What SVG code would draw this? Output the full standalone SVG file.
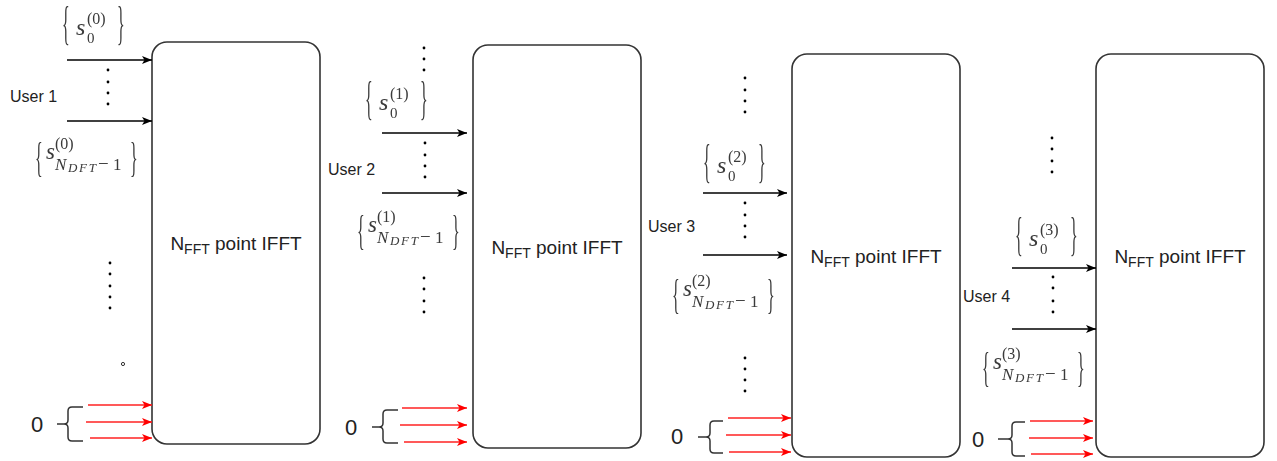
<svg xmlns="http://www.w3.org/2000/svg" width="1277" height="461" viewBox="0 0 1277 461">
  <defs>
    <marker id="ah" viewBox="0 0 10 8" refX="10" refY="4" markerWidth="10" markerHeight="8" markerUnits="userSpaceOnUse" orient="auto">
      <path d="M0,0 L10,4 L0,8 L2.5,4 z" fill="#000"/>
    </marker>
    <marker id="ahr" viewBox="0 0 10 8" refX="10" refY="4" markerWidth="10" markerHeight="8" markerUnits="userSpaceOnUse" orient="auto">
      <path d="M0,0 L10,4 L0,8 L2.5,4 z" fill="#f00"/>
    </marker>
    <!-- pass-through filter: renders math labels off-screen with greyscale smoothing -->
    <filter id="flat" x="-10%" y="-10%" width="120%" height="120%">
      <feOffset dx="0" dy="0"/>
    </filter>
    <style>
      .box { fill: #fff; stroke: #333; stroke-width: 1.6; }
      .wire { stroke: #000; stroke-width: 1.5; fill: none; marker-end: url(#ah); }
      .zero { stroke: #f22; stroke-width: 1.6; fill: none; marker-end: url(#ahr); }
      .dot { fill: #000; }
      .brk { fill: none; stroke: #333; stroke-width: 1.5; }
      .lbl { font-family: "Liberation Sans", Arial, sans-serif; font-size: 16px; fill: #222; }
      .num { font-family: "Liberation Sans", Arial, sans-serif; font-size: 22px; fill: #222; text-anchor: middle; }
      .ttl { font-family: "Liberation Sans", Arial, sans-serif; font-size: 19px; fill: #222; text-anchor: middle; }
      .math { filter: url(#flat); }
      .m { font-family: "Liberation Serif", "Times New Roman", serif; fill: #3a3a3a; }
      .mi { font-style: italic; }
      .br { font-family: "Liberation Serif", "Times New Roman", serif; font-size: 16px; fill: #3a3a3a; }
    </style>
  </defs>

  <!-- IFFT blocks -->
  <g id="ifft1">
    <rect class="box" x="152" y="42" width="168" height="402" rx="15"/>
    <text class="ttl" x="236" y="250">N<tspan font-size="14" dy="4">FFT</tspan><tspan dy="-4"> point IFFT</tspan></text>
  </g>
  <g id="ifft2">
    <rect class="box" x="473" y="45" width="168" height="403" rx="15"/>
    <text class="ttl" x="557" y="254">N<tspan font-size="14" dy="4">FFT</tspan><tspan dy="-4"> point IFFT</tspan></text>
  </g>
  <g id="ifft3">
    <rect class="box" x="792" y="54" width="168" height="403" rx="15"/>
    <text class="ttl" x="876" y="263">N<tspan font-size="14" dy="4">FFT</tspan><tspan dy="-4"> point IFFT</tspan></text>
  </g>
  <g id="ifft4">
    <rect class="box" x="1096" y="54" width="168" height="403" rx="15"/>
    <text class="ttl" x="1180" y="263">N<tspan font-size="14" dy="4">FFT</tspan><tspan dy="-4"> point IFFT</tspan></text>
  </g>

  <!-- user labels -->
  <g id="user1"><text class="lbl" x="10" y="102">User 1</text></g>
  <g id="user2"><text class="lbl" x="328" y="175">User 2</text></g>
  <g id="user3"><text class="lbl" x="648" y="232">User 3</text></g>
  <g id="user4"><text class="lbl" x="963" y="302">User 4</text></g>

  <!-- first-symbol labels {s_0^(k)} -->
  <g id="s0-first" class="math" transform="translate(62,27)">
    <text class="br" transform="scale(1,2.85)" y="4.1">{</text>
    <text class="m mi" x="14" y="8" font-size="24">s</text>
    <text class="m" x="25" y="-3" font-size="16">(0)</text>
    <text class="m" x="25" y="16" font-size="15">0</text>
    <text class="br" transform="translate(55,0) scale(1,2.85)" y="4.1">}</text>
  </g>
  <g id="s1-first" class="math" transform="translate(365,102)">
    <text class="br" transform="scale(1,2.85)" y="4.1">{</text>
    <text class="m mi" x="14" y="8" font-size="24">s</text>
    <text class="m" x="25" y="-3" font-size="16">(1)</text>
    <text class="m" x="25" y="16" font-size="15">0</text>
    <text class="br" transform="translate(55,0) scale(1,2.85)" y="4.1">}</text>
  </g>
  <g id="s2-first" class="math" transform="translate(703,165)">
    <text class="br" transform="scale(1,2.85)" y="4.1">{</text>
    <text class="m mi" x="14" y="8" font-size="24">s</text>
    <text class="m" x="25" y="-3" font-size="16">(2)</text>
    <text class="m" x="25" y="16" font-size="15">0</text>
    <text class="br" transform="translate(55,0) scale(1,2.85)" y="4.1">}</text>
  </g>
  <g id="s3-first" class="math" transform="translate(1015,238)">
    <text class="br" transform="scale(1,2.85)" y="4.1">{</text>
    <text class="m mi" x="14" y="8" font-size="24">s</text>
    <text class="m" x="25" y="-3" font-size="16">(3)</text>
    <text class="m" x="25" y="16" font-size="15">0</text>
    <text class="br" transform="translate(55,0) scale(1,2.85)" y="4.1">}</text>
  </g>

  <!-- last-symbol labels {s_(N_DFT-1)^(k)} -->
  <g id="s0-last" class="math" transform="translate(35,160)">
    <text class="br" transform="scale(1,2.7)" y="4.1">{</text>
    <text class="m mi" x="11" y="-1" font-size="23">s</text>
    <text class="m" x="20" y="-11" font-size="16">(0)</text>
    <text class="m mi" x="20" y="10" font-size="17">N</text>
    <text class="m mi" x="33" y="12" font-size="13" textLength="28" lengthAdjust="spacing">DFT</text>
    <text class="m" x="63" y="10" font-size="19">−</text>
    <text class="m" x="78" y="10" font-size="17">1</text>
    <text class="br" transform="translate(95,0) scale(1,2.7)" y="4.1">}</text>
  </g>
  <g id="s1-last" class="math" transform="translate(357,233)">
    <text class="br" transform="scale(1,2.7)" y="4.1">{</text>
    <text class="m mi" x="11" y="-1" font-size="23">s</text>
    <text class="m" x="20" y="-11" font-size="16">(1)</text>
    <text class="m mi" x="20" y="10" font-size="17">N</text>
    <text class="m mi" x="33" y="12" font-size="13" textLength="28" lengthAdjust="spacing">DFT</text>
    <text class="m" x="63" y="10" font-size="19">−</text>
    <text class="m" x="78" y="10" font-size="17">1</text>
    <text class="br" transform="translate(95,0) scale(1,2.7)" y="4.1">}</text>
  </g>
  <g id="s2-last" class="math" transform="translate(672,297)">
    <text class="br" transform="scale(1,2.7)" y="4.1">{</text>
    <text class="m mi" x="11" y="-1" font-size="23">s</text>
    <text class="m" x="20" y="-11" font-size="16">(2)</text>
    <text class="m mi" x="20" y="10" font-size="17">N</text>
    <text class="m mi" x="33" y="12" font-size="13" textLength="28" lengthAdjust="spacing">DFT</text>
    <text class="m" x="63" y="10" font-size="19">−</text>
    <text class="m" x="78" y="10" font-size="17">1</text>
    <text class="br" transform="translate(95,0) scale(1,2.7)" y="4.1">}</text>
  </g>
  <g id="s3-last" class="math" transform="translate(982,370)">
    <text class="br" transform="scale(1,2.7)" y="4.1">{</text>
    <text class="m mi" x="11" y="-1" font-size="23">s</text>
    <text class="m" x="20" y="-11" font-size="16">(3)</text>
    <text class="m mi" x="20" y="10" font-size="17">N</text>
    <text class="m mi" x="33" y="12" font-size="13" textLength="28" lengthAdjust="spacing">DFT</text>
    <text class="m" x="63" y="10" font-size="19">−</text>
    <text class="m" x="78" y="10" font-size="17">1</text>
    <text class="br" transform="translate(95,0) scale(1,2.7)" y="4.1">}</text>
  </g>

  <!-- zero-padding inputs: value and grouping bracket -->
  <g id="zero1">
    <text class="num" x="37" y="432">0</text>
    <path class="brk" d="M83,407 H72 Q68,407 68,411 V420 Q68,424 64,424 H57 M64,424 Q68,424 68,428 V437 Q68,441 72,441 H83"/>
  </g>
  <g id="zero2">
    <text class="num" x="351" y="435">0</text>
    <path class="brk" d="M398,410 H387 Q383,410 383,414 V423 Q383,427 379,427 H372 M379,427 Q383,427 383,431 V439 Q383,443 387,443 H398"/>
  </g>
  <g id="zero3">
    <text class="num" x="677" y="444">0</text>
    <path class="brk" d="M723,421 H714 Q710,421 710,425 V433 Q710,437 706,437 H698 M706,437 Q710,437 710,441 V449 Q710,453 714,453 H723"/>
  </g>
  <g id="zero4">
    <text class="num" x="978" y="447">0</text>
    <path class="brk" d="M1025,422 H1016 Q1012,422 1012,426 V435 Q1012,439 1008,439 H998 M1008,439 Q1012,439 1012,443 V452 Q1012,456 1016,456 H1025"/>
  </g>

  <!-- ellipsis dots -->
  <g id="ellipses">
    <circle class="dot" cx="108" cy="70" r="1.4"/>
    <circle class="dot" cx="108" cy="82" r="1.4"/>
    <circle class="dot" cx="108" cy="93" r="1.4"/>
    <circle class="dot" cx="108" cy="104" r="1.4"/>

    <circle class="dot" cx="110" cy="263" r="1.4"/>
    <circle class="dot" cx="110" cy="274" r="1.4"/>
    <circle class="dot" cx="110" cy="286" r="1.4"/>
    <circle class="dot" cx="110" cy="297" r="1.4"/>
    <circle class="dot" cx="110" cy="308" r="1.4"/>
    <circle cx="123" cy="364" r="1.6" fill="#fff" stroke="#333" stroke-width="1"/>

    <circle class="dot" cx="424" cy="48" r="1.4"/>
    <circle class="dot" cx="424" cy="59" r="1.4"/>
    <circle class="dot" cx="424" cy="70" r="1.4"/>
    <circle class="dot" cx="425" cy="143" r="1.4"/>
    <circle class="dot" cx="425" cy="155" r="1.4"/>
    <circle class="dot" cx="425" cy="166" r="1.4"/>
    <circle class="dot" cx="425" cy="177" r="1.4"/>
    <circle class="dot" cx="424" cy="278" r="1.4"/>
    <circle class="dot" cx="424" cy="289" r="1.4"/>
    <circle class="dot" cx="424" cy="301" r="1.4"/>
    <circle class="dot" cx="424" cy="312" r="1.4"/>

    <circle class="dot" cx="745" cy="78" r="1.4"/>
    <circle class="dot" cx="745" cy="90" r="1.4"/>
    <circle class="dot" cx="745" cy="101" r="1.4"/>
    <circle class="dot" cx="745" cy="112" r="1.4"/>
    <circle class="dot" cx="745" cy="203" r="1.4"/>
    <circle class="dot" cx="745" cy="215" r="1.4"/>
    <circle class="dot" cx="745" cy="226" r="1.4"/>
    <circle class="dot" cx="745" cy="237" r="1.4"/>
    <circle class="dot" cx="745" cy="358" r="1.4"/>
    <circle class="dot" cx="745" cy="369" r="1.4"/>
    <circle class="dot" cx="745" cy="380" r="1.4"/>
    <circle class="dot" cx="745" cy="391" r="1.4"/>

    <circle class="dot" cx="1052" cy="138" r="1.4"/>
    <circle class="dot" cx="1052" cy="149" r="1.4"/>
    <circle class="dot" cx="1052" cy="161" r="1.4"/>
    <circle class="dot" cx="1052" cy="172" r="1.4"/>
    <circle class="dot" cx="1053" cy="277" r="1.4"/>
    <circle class="dot" cx="1053" cy="288" r="1.4"/>
    <circle class="dot" cx="1053" cy="301" r="1.4"/>
    <circle class="dot" cx="1053" cy="312" r="1.4"/>
  </g>

  <!-- connectors -->
  <g id="connectors">
    <line class="wire" x1="67" y1="60" x2="152" y2="60"/>
    <line class="wire" x1="67" y1="121" x2="152" y2="121"/>
    <line class="zero" x1="88" y1="405" x2="152" y2="405"/>
    <line class="zero" x1="86" y1="422" x2="152" y2="422"/>
    <line class="zero" x1="90" y1="438" x2="152" y2="438"/>

    <line class="wire" x1="382" y1="133" x2="467" y2="133"/>
    <line class="wire" x1="382" y1="193" x2="467" y2="193"/>
    <line class="zero" x1="402" y1="408" x2="467" y2="408"/>
    <line class="zero" x1="400" y1="425" x2="467" y2="425"/>
    <line class="zero" x1="404" y1="442" x2="467" y2="442"/>

    <line class="wire" x1="703" y1="193" x2="787" y2="193"/>
    <line class="wire" x1="703" y1="255" x2="787" y2="255"/>
    <line class="zero" x1="728" y1="418" x2="791" y2="418"/>
    <line class="zero" x1="726" y1="435" x2="791" y2="435"/>
    <line class="zero" x1="729" y1="452" x2="791" y2="452"/>

    <line class="wire" x1="1012" y1="268" x2="1096" y2="268"/>
    <line class="wire" x1="1012" y1="329" x2="1096" y2="329"/>
    <line class="zero" x1="1030" y1="421" x2="1093" y2="421"/>
    <line class="zero" x1="1029" y1="438" x2="1093" y2="438"/>
    <line class="zero" x1="1031" y1="454" x2="1093" y2="454"/>
  </g>
</svg>
